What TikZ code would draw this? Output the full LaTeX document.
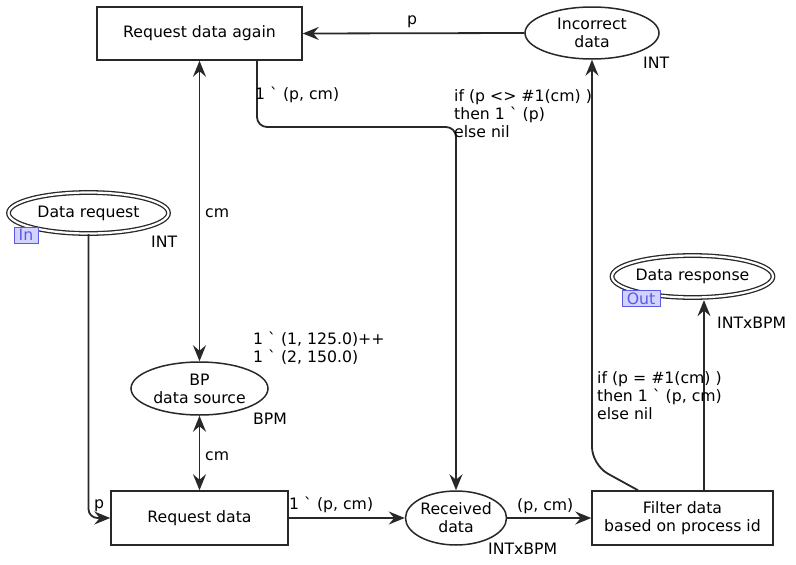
\documentclass[tikz,border=0pt]{standalone}
\usepackage{fontspec}
\setmainfont{DejaVu Sans}[Ligatures=TeXOff]
\usetikzlibrary{shapes.geometric,arrows.meta,calc}
\definecolor{linec}{RGB}{40,40,40}
\definecolor{portc}{RGB}{90,90,230}
\definecolor{portfill}{RGB}{210,210,255}
\newcommand{\bq}{\symbol{96}}
\begin{document}
\begin{tikzpicture}[x=1pt,y=-1pt,
  every node/.style={font=\fontsize{15.7}{18}\selectfont},
  trans/.style={draw=linec, line width=1.5pt, rectangle, inner sep=0, align=center},
  place/.style={draw=linec, line width=1.5pt, ellipse, inner sep=0, align=center},
  ioplace/.style={draw=linec, ellipse, inner sep=0, align=center, double, double distance=2.2pt, line width=1.3pt},
  port/.style={draw=portc, fill=portfill, text=portc, inner sep=0, line width=1pt},
  lbl/.style={inner sep=0, anchor=base west},
  mlbl/.style={inner sep=0, anchor=north west, align=left},
  conn/.style={draw=linec, line width=1.8pt, -{Stealth[length=16pt,width=13pt,inset=5.5pt]}},
  dconn/.style={draw=linec, line width=1.8pt, {Stealth[length=16pt,width=13pt,inset=5.5pt]}-{Stealth[length=16pt,width=13pt,inset=5.5pt]}}
]
\useasboundingbox (0,0) rectangle (796,565);

% transitions
\node[trans, minimum width=205pt, minimum height=53pt] (rda) at (199.5,33.5) {Request data again};
\node[trans, minimum width=177pt, minimum height=54pt] (rd) at (199.5,518) {Request data};
\node[trans, minimum width=181pt, minimum height=54pt] (filter) at (682.5,518) {Filter data\\based on process id};

% places
\node[place, minimum width=134pt, minimum height=52pt] (incorrect) at (592,33) {Incorrect\\data};
\node[place, minimum width=137pt, minimum height=53pt] (bp) at (199.5,388.5) {BP\\data source};
\node[place, minimum width=80pt, minimum height=54pt] (recv) at (456,518) {Received\\data};
\node[ioplace, minimum width=160pt, minimum height=41pt] (dreq) at (88.5,213) {Data request};
\node[ioplace, minimum width=138pt, minimum height=42pt] (dresp) at (692.5,276.5) {Data response};

% ports
\node[port, minimum width=24pt, minimum height=16pt] (inport) at (26,235) {In};
\node[port, minimum width=38pt, minimum height=16pt] (outport) at (641,298.5) {Out};

% coordinates
\coordinate (rdaout) at ([xshift=57.5pt]rda.south);
\coordinate (hop) at (456,127);
\coordinate (fout) at ([xshift=-44.5pt]filter.north);
\coordinate (bend) at (592,465);
\coordinate (rout) at ([xshift=21.5pt]filter.north);

% arcs
\draw[conn] (incorrect.west) -- (rda.east);
\draw[dconn] (rda.south) -- (bp.north);
\draw[dconn] (bp.south) -- (rd.north);
\draw[conn, rounded corners=9pt] (dreq.south) |- (rd.west);
\draw[conn] (rd.east) -- (recv.west);
\draw[conn] (recv.east) -- (filter.west);
\draw[conn, rounded corners=10pt] (rdaout) |- (hop) -- (recv.north);
\draw[conn, rounded corners=18pt] (fout) -- (bend) -- (incorrect.south);
\draw[conn, shorten >=2pt] (rout) -- (rout |- dresp.south);

% labels
\node[lbl] (l1) at (407,24.7) {p};
\node[lbl] (l2) at (643,68.7) {INT};
\node[lbl] (l3) at (255,99.7) {1 \bq{} (p, cm)};
\node[mlbl] (l4) at (454,89) {if (p <> \#1(cm) )\\then 1 \bq{} (p)\\else nil};
\node[lbl] (l5) at (205,217.7) {cm};
\node[lbl] (l6) at (151,247.7) {INT};
\node[mlbl] (l7) at (253,332) {1 \bq{} (1, 125.0)++\\1 \bq{} (2, 150.0)};
\node[lbl] (l8) at (253,424.7) {BPM};
\node[lbl] (l9) at (205,460.7) {cm};
\node[lbl] (l10) at (94,508.7) {p};
\node[lbl] (l11) at (289,509.7) {1 \bq{} (p, cm)};
\node[lbl] (l12) at (517,510.7) {(p, cm)};
\node[lbl] (l13) at (488,554.7) {INTxBPM};
\node[mlbl] (l14) at (597,371) {if (p = \#1(cm) )\\then 1 \bq{} (p, cm)\\else nil};
\node[lbl] (l15) at (717,328.7) {INTxBPM};
\end{tikzpicture}
\end{document}
